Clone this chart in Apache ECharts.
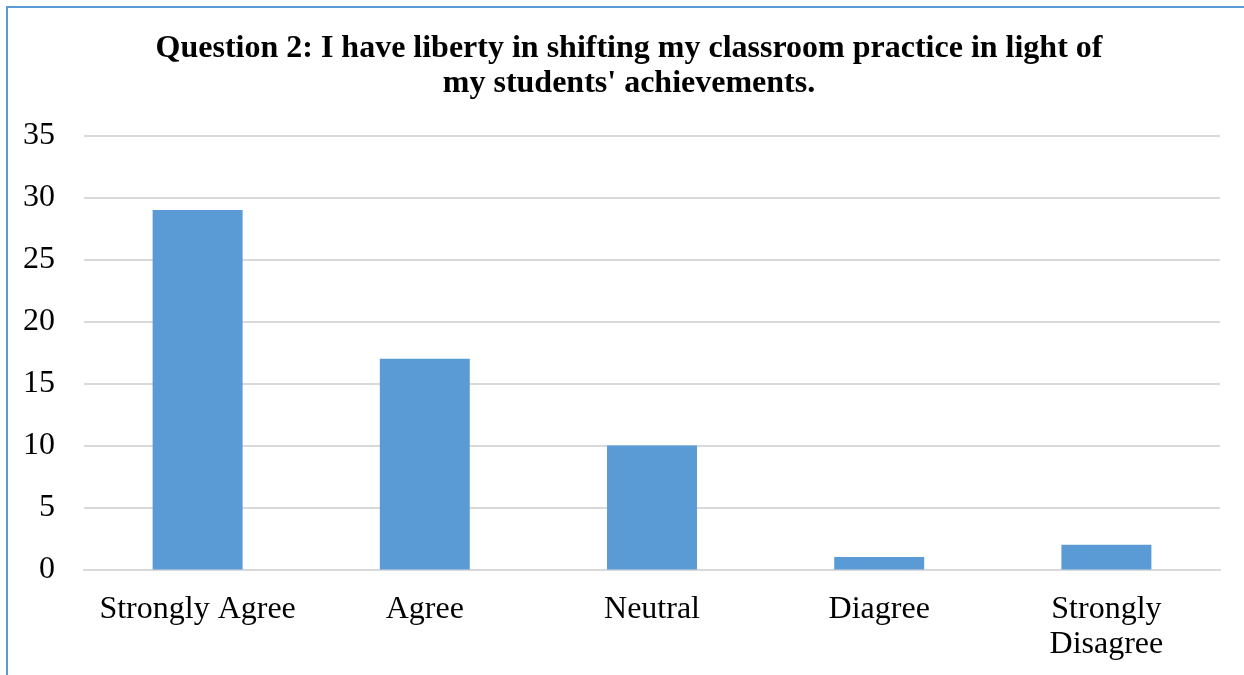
<!DOCTYPE html>
<html>
<head>
<meta charset="utf-8">
<script src="https://cdn.jsdelivr.net/npm/echarts@6/dist/echarts.min.js"></script>
<style>
html,body{margin:0;padding:0;background:#fff;}
#chart{width:1244px;height:675px;}
#frame{position:absolute;left:6px;top:6px;width:1300px;height:700px;border-left:2px solid #5B9BD5;border-top:2px solid #5B9BD5;pointer-events:none;}
</style>
</head>
<body>
<div id="chart"></div>
<div id="frame"></div>
<script>
const titleText = "Question 2: I have liberty in shifting my classroom practice in light of\nmy students' achievements.";
const categories = ["Strongly Agree", "Agree", "Neutral", "Diagree", "Strongly\nDisagree"];
const values = [29, 17, 10, 1, 2];
const yTicks = { min: 0, max: 35, interval: 5 };

const chart = echarts.init(document.getElementById('chart'), null, {renderer: 'canvas'});
const font = '"Liberation Serif", "Times New Roman", serif';
chart.setOption({
  animation: false,
  title: {
    text: titleText,
    left: 624,
    textAlign: 'center',
    top: 26,
    textStyle: {fontFamily: font, fontWeight: 'bold', fontSize: 32, color: '#000', lineHeight: 35}
  },
  grid: {left: 84, right: 24, top: 135.5, bottom: 105.5, containLabel: false},
  xAxis: {
    type: 'category',
    data: categories,
    axisLine: {show: true, lineStyle: {color: '#d9d9d9', width: 2}},
    axisTick: {show: false},
    axisLabel: {fontFamily: font, fontSize: 32, color: '#000', margin: 23, lineHeight: 35, interval: 0}
  },
  yAxis: {
    type: 'value',
    min: yTicks.min, max: yTicks.max, interval: yTicks.interval,
    axisLine: {show: false},
    axisTick: {show: false},
    splitLine: {lineStyle: {color: '#d9d9d9', width: 2}},
    axisLabel: {fontFamily: font, fontSize: 32, color: '#000', margin: 29}
  },
  series: [{
    type: 'bar',
    data: values,
    barWidth: '39.6%',
    itemStyle: {color: '#5B9BD5'}
  }]
});
</script>
</body>
</html>
